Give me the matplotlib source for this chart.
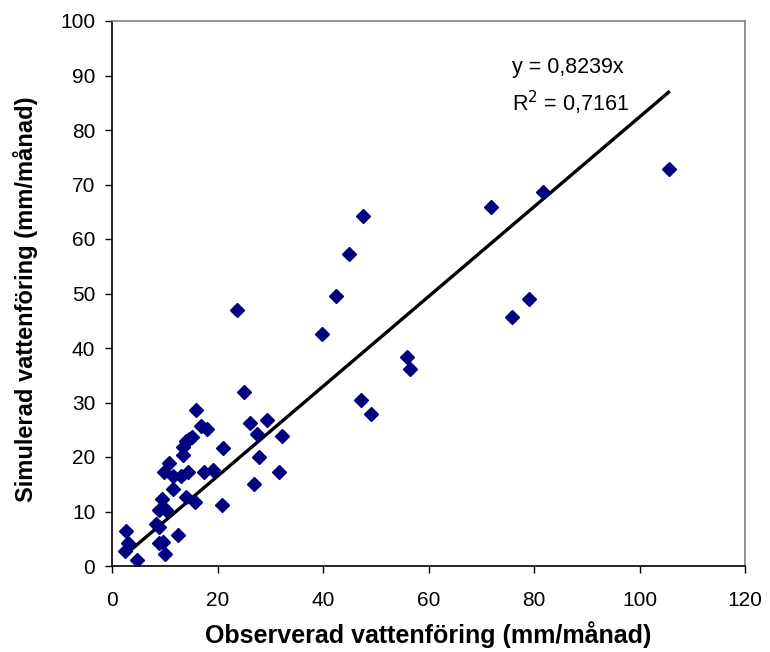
import matplotlib
matplotlib.use('Agg')
import matplotlib.pyplot as plt
import numpy as np

plt.rcParams['font.family'] = ['Liberation Sans', 'DejaVu Sans']

# observerad / simulerad vattenföring (mm/månad)
observerad = [2.6, 3.0, 2.5, 4.7, 8.3, 9.0, 8.9, 9.7, 10.0, 9.0, 10.3, 9.5, 11.6, 12.6,
              14.1, 15.7, 9.8, 10.9, 11.6, 13.0, 14.5, 17.5, 19.2, 13.5, 13.5, 14.1, 15.2,
              14.6, 15.9, 16.8, 18.1, 21.1, 20.9, 25.0, 26.1, 27.4, 27.8, 27.0, 29.4, 32.3,
              31.7, 23.7, 39.9, 42.5, 44.9, 47.5, 47.2, 49.1, 56.0, 56.4, 71.9, 75.8, 79.1,
              81.8, 105.5]
simulerad = [6.4, 4.3, 2.8, 1.1, 7.7, 7.2, 4.3, 4.4, 2.2, 10.2, 10.2, 12.3, 14.1, 5.7,
             12.6, 11.8, 17.2, 18.9, 16.6, 16.6, 17.2, 17.2, 17.6, 20.4, 21.8, 22.9, 23.7,
             23.3, 28.7, 25.6, 25.1, 21.6, 11.2, 31.9, 26.2, 24.3, 20.0, 15.0, 26.8, 23.9,
             17.3, 46.9, 42.5, 49.5, 57.2, 64.2, 30.4, 27.8, 38.4, 36.2, 65.8, 45.7, 48.9,
             68.7, 72.8]

slope = 0.8239
r2 = 0.7161

fig = plt.figure(figsize=(7.7, 6.52), dpi=100)
ax = fig.add_axes([112 / 770, 1 - 566 / 652, (745 - 112) / 770, (566 - 21) / 652])

ax.plot(observerad, simulerad, linestyle='none', marker='D', markersize=6.8,
        color='#000080', zorder=3)

# trendlinje genom origo
xl = np.array([min(observerad), max(observerad)])
ax.plot(xl, slope * xl, color='black', linewidth=2.4, zorder=2)

ax.text(75.9, 91.5, 'y = 0,8239x', fontsize=15.5, va='center', ha='left')
ax.text(75.9, 85.0, 'R$^2$ = 0,7161', fontsize=15.5, va='center', ha='left')

ax.set_xlim(0, 120)
ax.set_ylim(0, 100)
ax.set_xticks(np.arange(0, 121, 20))
ax.set_yticks(np.arange(0, 101, 10))
ax.tick_params(axis='both', direction='out', length=5, width=1, labelsize=15)
ax.tick_params(axis='x', pad=13)
ax.tick_params(axis='y', pad=7)

ax.spines['left'].set_color('black')
ax.spines['bottom'].set_color('black')
ax.spines['top'].set_color('#808080')
ax.spines['right'].set_color('#808080')
for s in ax.spines.values():
    s.set_linewidth(1.2)

ax.set_xlabel('Observerad vattenföring (mm/månad)', fontsize=18, fontweight='bold', va='center')
ax.set_ylabel('Simulerad vattenföring (mm/månad)', fontsize=17, fontweight='bold', va='center')
ax.xaxis.set_label_coords(0.5, -0.125)
ax.yaxis.set_label_coords(-0.137, 0.49)

fig.savefig('out.png', dpi=100)
